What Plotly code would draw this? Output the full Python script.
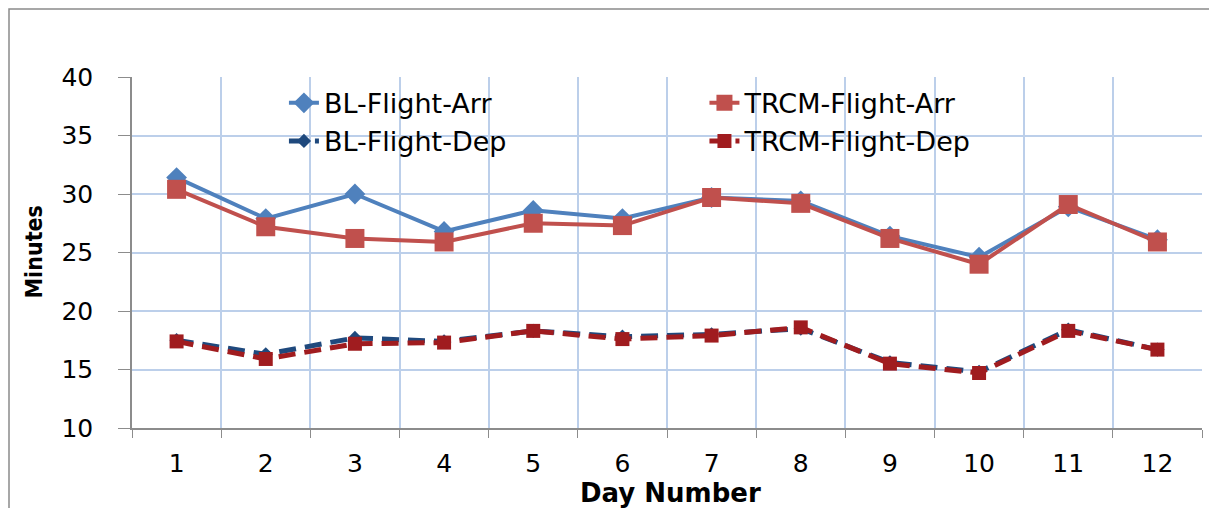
import plotly.graph_objects as go

days = [1, 2, 3, 4, 5, 6, 7, 8, 9, 10, 11, 12]
bl_arr = [31.4, 27.9, 30.0, 26.8, 28.6, 27.9, 29.7, 29.4, 26.4, 24.6, 28.9, 26.1]
trcm_arr = [30.4, 27.2, 26.2, 25.9, 27.5, 27.3, 29.7, 29.2, 26.2, 24.0, 29.1, 25.9]
bl_dep = [17.5, 16.3, 17.7, 17.4, 18.3, 17.8, 18.0, 18.5, 15.6, 14.8, 18.4, 16.7]
trcm_dep = [17.4, 15.9, 17.2, 17.3, 18.3, 17.6, 17.9, 18.6, 15.5, 14.7, 18.3, 16.7]

FONT = "DejaVu Sans"
BL_ARR_C = "#4F81BD"
TRCM_ARR_C = "#C0504D"
BL_DEP_C = "#1F497D"
TRCM_DEP_C = "#A01C1F"
GRID_C = "#BCCFEA"
AXIS_C = "#8C8C8C"

# the page adds an 8px body margin, so the figure is drawn 8px in and down;
# PX/PY convert reference page pixels into paper coordinates of the plot area
PLOT_L, PLOT_T, PLOT_W, PLOT_H = 132, 77, 1070, 351


def PX(px):
    return (px - PLOT_L) / PLOT_W


def PY(py):
    return (PLOT_T + PLOT_H - py) / PLOT_H


x = [str(d) for d in days]

fig = go.Figure()

fig.add_trace(go.Scatter(
    x=x, y=bl_arr, name="BL-Flight-Arr", mode="lines+markers",
    line=dict(color=BL_ARR_C, width=4),
    marker=dict(symbol="diamond", size=16, color=BL_ARR_C),
    legend="legend", legendgroup="a",
))
fig.add_trace(go.Scatter(
    x=x, y=trcm_arr, name="TRCM-Flight-Arr", mode="lines+markers",
    line=dict(color=TRCM_ARR_C, width=4),
    marker=dict(symbol="square", size=19, color=TRCM_ARR_C),
    legend="legend2", legendgroup="c",
))
fig.add_trace(go.Scatter(
    x=x, y=bl_dep, name="BL-Flight-Dep", mode="lines+markers",
    line=dict(color=BL_DEP_C, width=5, dash="17px,9px"),
    marker=dict(symbol="diamond", size=11, color=BL_DEP_C),
    legend="legend", legendgroup="b",
))
fig.add_trace(go.Scatter(
    x=x, y=trcm_dep, name="TRCM-Flight-Dep", mode="lines+markers",
    line=dict(color=TRCM_DEP_C, width=5, dash="17px,9px"),
    marker=dict(symbol="square", size=14, color=TRCM_DEP_C),
    legend="legend2", legendgroup="d",
))

# white box behind the legends, hides the grid
fig.add_shape(type="rect", xref="paper", yref="paper",
              x0=PX(200), x1=PX(1050), y0=PY(160), y1=PY(85),
              fillcolor="white", line=dict(width=0), layer="between")

# outer chart border (runs off the right and bottom edges)
fig.add_shape(type="rect", xref="paper", yref="paper",
              x0=PX(9), x1=1.2, y0=-0.5, y1=PY(9),
              line=dict(color="#8A8A8A", width=1.5), layer="below")

legend_style = dict(
    bgcolor="rgba(0,0,0,0)", font=dict(family=FONT, size=27, color="black"),
    orientation="v", tracegroupgap=0, yanchor="top", xanchor="left",
    traceorder="grouped",
)

fig.update_layout(
    width=1209, height=500,
    margin=dict(l=PLOT_L - 8, r=1209 - (PLOT_L - 8) - PLOT_W,
                t=PLOT_T - 8, b=500 - (PLOT_T - 8) - PLOT_H),
    plot_bgcolor="white", paper_bgcolor="white",
    font=dict(family=FONT, color="black"),
    legend=dict(x=0.142, y=0.995, **legend_style),
    legend2=dict(x=0.535, y=0.995, **legend_style),
    xaxis=dict(
        type="category", tickson="boundaries", range=[-0.5, 11.5],
        showgrid=True, gridcolor=GRID_C, gridwidth=2,
        showline=True, linecolor=AXIS_C, linewidth=1.5,
        ticks="outside", ticklen=8, tickcolor=AXIS_C,
        tickfont=dict(family=FONT, size=25), ticklabelstandoff=12,
    ),
    yaxis=dict(
        range=[10, 40], dtick=5, tick0=10,
        showgrid=True, gridcolor=GRID_C, gridwidth=2,
        showline=True, linecolor=AXIS_C, linewidth=1.5,
        ticks="outside", ticklen=12, tickcolor=AXIS_C,
        tickfont=dict(family=FONT, size=25), ticklabelstandoff=20,
        zeroline=False,
    ),
    annotations=[
        dict(text="<b>Minutes</b>", xref="paper", yref="paper",
             x=PX(33), y=0.5, xanchor="center", yanchor="middle",
             textangle=-90, showarrow=False,
             font=dict(family="DejaVu Sans Condensed, DejaVu Sans", size=23)),
        dict(text="<b>Day Number</b>", xref="paper", yref="paper",
             x=PX(670), y=PY(493), xanchor="center", yanchor="middle",
             showarrow=False, font=dict(family=FONT, size=26)),
    ],
)

fig.write_html("out.html")
